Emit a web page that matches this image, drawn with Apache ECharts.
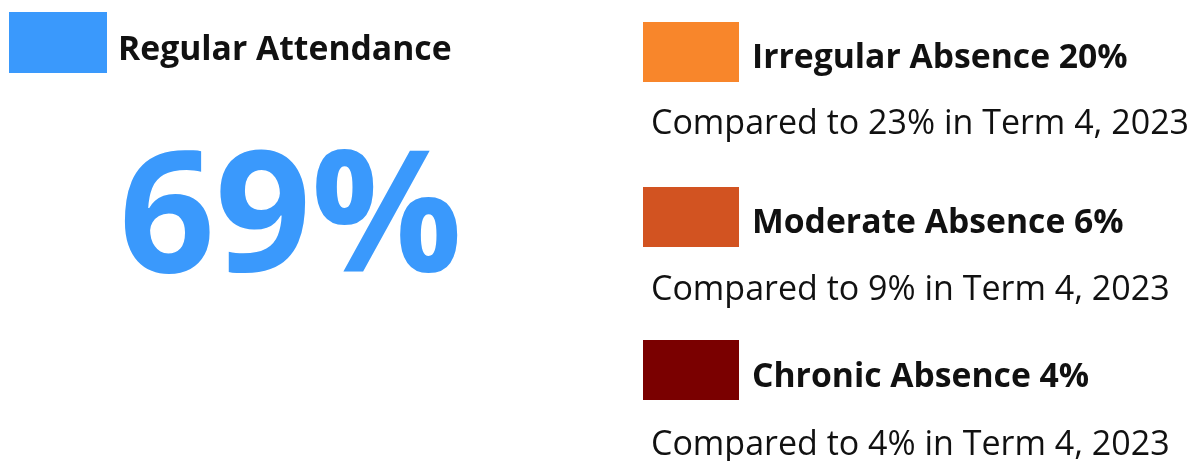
<!DOCTYPE html>
<html>
<head>
<meta charset="utf-8">
<script src="https://cdn.jsdelivr.net/npm/echarts@6/dist/echarts.min.js"></script>
<style>
html,body{margin:0;padding:0;background:#fff;}
#chart{width:1199px;height:461px;}
</style>
</head>
<body>
<div id="chart"></div>
<script>
// ---- data ----
const mainLabel = 'Regular Attendance';
const mainValue = 69;
const mainColor = '#3A99FC';
const categories = ['Irregular Absence', 'Moderate Absence', 'Chronic Absence'];
const currentValues = [20, 6, 4];
const previousValues = [23, 9, 4];
const previousTerm = 'Term 4, 2023';
const categoryColors = ['#F8862B', '#D25321', '#7A0000'];

// ---- layout ----
const FONT = '"Open Sans", "Noto Sans", sans-serif';
const rowSwatchTop = [22, 187, 340];
const rowTitleY = [58.5, 223.5, 377];
const rowCompareY = [124, 290, 445];

const chart = echarts.init(document.getElementById('chart'), null, {renderer: 'canvas'});

const elements = [];
elements.push({
  type: 'rect', shape: {x: 9, y: 12, width: 98, height: 61},
  style: {fill: mainColor}
});
elements.push({
  type: 'text', x: 118, y: 50,
  style: {text: mainLabel, fill: '#111', font: 'bold 33.7px ' + FONT, align: 'left', verticalAlign: 'middle'}
});
elements.push({
  type: 'text', x: 119, y: 224,
  style: {text: mainValue + '%', fill: mainColor, font: 'bold 168px ' + FONT, align: 'left', verticalAlign: 'middle'}
});
categories.forEach(function (c, i) {
  elements.push({
    type: 'rect', shape: {x: 643, y: rowSwatchTop[i], width: 96, height: 60},
    style: {fill: categoryColors[i]}
  });
  elements.push({
    type: 'text', x: 752, y: rowTitleY[i],
    style: {text: c + ' ' + currentValues[i] + '%', fill: '#111', font: 'bold 33.7px ' + FONT, align: 'left', verticalAlign: 'middle'}
  });
  elements.push({
    type: 'text', x: 651, y: rowCompareY[i],
    style: {text: 'Compared to ' + previousValues[i] + '% in ' + previousTerm, fill: '#111', font: '34px ' + FONT, align: 'left', verticalAlign: 'middle'}
  });
});

chart.setOption({
  backgroundColor: '#ffffff',
  animation: false,
  graphic: {elements: elements}
});
</script>
</body>
</html>
